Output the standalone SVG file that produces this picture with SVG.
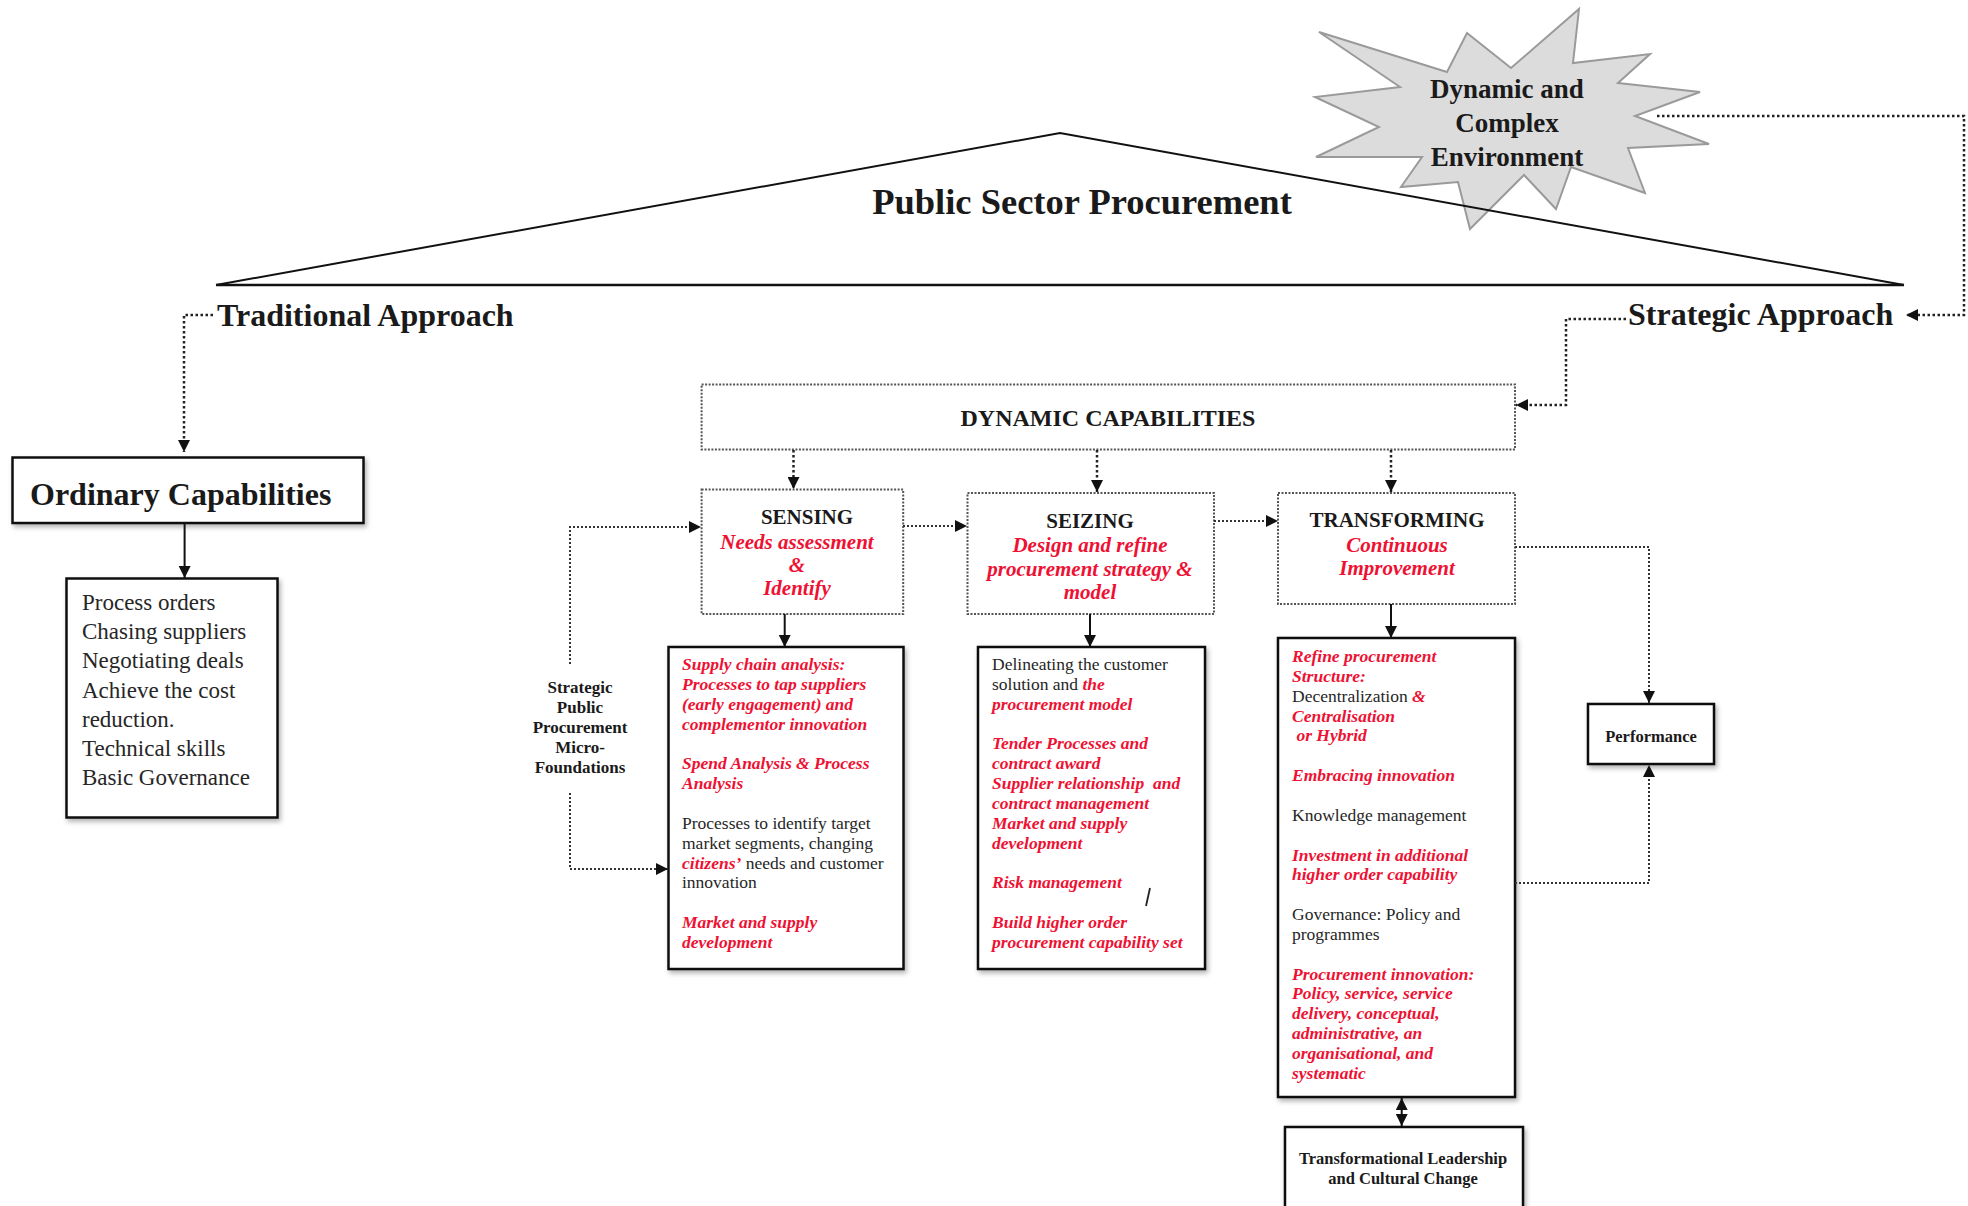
<svg xmlns="http://www.w3.org/2000/svg" width="1968" height="1206" viewBox="0 0 1968 1206">
  <style>
    text { font-family: "Liberation Serif", "Times New Roman", serif; fill: #1a1a1a; }
    .b { font-weight: bold; }
    .red { fill: #ee1133; font-weight: bold; font-style: italic; }
    .reg { fill: #262626; }
    .mid { text-anchor: middle; }
    .box { fill: #fff; stroke: #111; stroke-width: 2.5; }
    .dbox { fill: #fff; stroke: #555; stroke-width: 2; stroke-dasharray: 2 1.5; }
    .dot { fill: none; stroke: #333; stroke-width: 2; stroke-dasharray: 2 2; }
    .dot-h { fill: none; stroke: #222; stroke-width: 2.5; stroke-dasharray: 2.5 2.5; }
    .solid { fill: none; stroke: #111; stroke-width: 2; }
    .roof { fill: none; stroke: #111; stroke-width: 2; stroke-linejoin: miter; }
    .burst { fill: #dcdcdc; stroke: #9a9a9a; stroke-width: 2; }
  </style>
  <defs>
    <marker id="arrow" viewBox="0 0 10 10" refX="10" refY="5" markerUnits="userSpaceOnUse" markerWidth="12" markerHeight="12" orient="auto-start-reverse">
      <path d="M0,0 L10,5 L0,10 z" fill="#111"/>
    </marker>
    <filter id="shadow" x="-10%" y="-10%" width="130%" height="130%">
      <feDropShadow dx="2" dy="3" stdDeviation="2.5" flood-color="#000" flood-opacity="0.3"/>
    </filter>
  </defs>

  <!-- environment starburst -->
  <g id="environment">
    <polygon class="burst" points="1579,9 1573,63 1650,54 1618,83 1700,92 1635,116 1709,144 1628,148 1645,193 1571,167 1556,209 1524,175 1470,229 1458,182 1401,187 1422,157 1316,157 1379,127 1315,97 1400,87 1319,32 1447,72 1467,33 1511,68"/>
    <text class="b mid" x="1507" y="98" font-size="27">Dynamic and</text>
    <text class="b mid" x="1507" y="132" font-size="27">Complex</text>
    <text class="b mid" x="1507" y="166" font-size="27">Environment</text>
  </g>

  <!-- procurement roof -->
  <g id="public-sector-procurement">
    <polyline class="roof" points="216,285 1060,133 1904,285"/>
    <line x1="216" y1="285" x2="1904" y2="285" stroke="#111" stroke-width="2.5"/>
    <text class="b mid" x="1082" y="214" font-size="36.5">Public Sector Procurement</text>
  </g>

  <g id="traditional-approach">
    <text class="b" x="217" y="326" font-size="32">Traditional Approach</text>
  </g>
  <g id="strategic-approach">
    <text class="b" x="1628" y="325" font-size="32">Strategic Approach</text>
  </g>

  <!-- ordinary capabilities -->
  <g id="ordinary-capabilities">
    <rect class="box" x="12.5" y="457.5" width="351" height="65.5" filter="url(#shadow)"/>
    <text class="b" x="30" y="505" font-size="32">Ordinary Capabilities</text>
  </g>
  <g id="ordinary-list">
    <rect class="box" x="66.5" y="578.5" width="211" height="239" filter="url(#shadow)"/>
    <g font-size="23" class="reg">
      <text class="reg" x="82" y="610">Process orders</text>
      <text class="reg" x="82" y="639">Chasing suppliers</text>
      <text class="reg" x="82" y="668">Negotiating deals</text>
      <text class="reg" x="82" y="697.5">Achieve the cost</text>
      <text class="reg" x="82" y="726.5">reduction.</text>
      <text class="reg" x="82" y="755.5">Technical skills</text>
      <text class="reg" x="82" y="784.5">Basic Governance</text>
    </g>
  </g>

  <!-- dynamic capabilities -->
  <g id="dynamic-capabilities">
    <rect class="dbox" x="701.6" y="384.5" width="813.4" height="65"/>
    <text class="b mid" x="1108" y="426" font-size="24">DYNAMIC CAPABILITIES</text>
  </g>

  <g id="sensing">
    <rect class="dbox" x="701.6" y="489.5" width="201.6" height="124.5"/>
    <text class="b mid" x="807" y="524" font-size="21">SENSING</text>
    <text class="red mid" x="797" y="549" font-size="21">Needs assessment</text>
    <text class="red mid" x="797" y="572" font-size="21">&amp;</text>
    <text class="red mid" x="797" y="595" font-size="21">Identify</text>
  </g>

  <g id="seizing">
    <rect class="dbox" x="967.5" y="493" width="246.5" height="121"/>
    <text class="b mid" x="1090" y="528" font-size="21">SEIZING</text>
    <text class="red mid" x="1090" y="552" font-size="21">Design and refine</text>
    <text class="red mid" x="1090" y="576" font-size="21">procurement strategy &amp;</text>
    <text class="red mid" x="1090" y="599" font-size="21">model</text>
  </g>

  <g id="transforming">
    <rect class="dbox" x="1278" y="493" width="237" height="111"/>
    <text class="b mid" x="1397" y="527" font-size="21">TRANSFORMING</text>
    <text class="red mid" x="1397" y="552" font-size="21">Continuous</text>
    <text class="red mid" x="1397" y="575" font-size="21">Improvement</text>
  </g>

  <g id="micro-foundations">
    <text class="b mid" x="580" y="693" font-size="17">Strategic</text>
    <text class="b mid" x="580" y="713" font-size="17">Public</text>
    <text class="b mid" x="580" y="733" font-size="17">Procurement</text>
    <text class="b mid" x="580" y="753" font-size="17">Micro-</text>
    <text class="b mid" x="580" y="773" font-size="17">Foundations</text>
  </g>

  <!-- sensing activities -->
  <g id="sensing-list" font-size="17.5">
    <rect class="box" x="668.5" y="647" width="235" height="322" filter="url(#shadow)"/>
    <text class="red" x="682" y="670">Supply chain analysis:</text>
    <text class="red" x="682" y="689.9">Processes to tap suppliers</text>
    <text class="red" x="682" y="709.7">(early engagement) and</text>
    <text class="red" x="682" y="729.6">complementor innovation</text>
    <text class="red" x="682" y="769.3">Spend Analysis &amp; Process</text>
    <text class="red" x="682" y="789.1">Analysis</text>
    <text class="reg" x="682" y="828.8">Processes to identify target</text>
    <text class="reg" x="682" y="848.7">market segments, changing</text>
    <text class="reg" x="682" y="868.5"><tspan class="red">citizens’</tspan> needs and customer</text>
    <text class="reg" x="682" y="888.4">innovation</text>
    <text class="red" x="682" y="928">Market and supply</text>
    <text class="red" x="682" y="947.9">development</text>
  </g>

  <!-- seizing activities -->
  <g id="seizing-list" font-size="17.5">
    <rect class="box" x="978" y="647" width="227" height="322" filter="url(#shadow)"/>
    <text class="reg" x="992" y="670">Delineating the customer</text>
    <text class="reg" x="992" y="689.9">solution and <tspan class="red">the</tspan></text>
    <text class="red" x="992" y="709.7">procurement model</text>
    <text class="red" x="992" y="749.4">Tender Processes and</text>
    <text class="red" x="992" y="769.3">contract award</text>
    <text class="red" x="992" y="789.1" xml:space="preserve">Supplier relationship  and</text>
    <text class="red" x="992" y="809">contract management</text>
    <text class="red" x="992" y="828.8">Market and supply</text>
    <text class="red" x="992" y="848.7">development</text>
    <text class="red" x="992" y="888.4">Risk management</text>
    <line x1="1150" y1="888" x2="1146" y2="906" stroke="#222" stroke-width="1.8"/>
    <text class="red" x="992" y="928">Build higher order</text>
    <text class="red" x="992" y="947.9">procurement capability set</text>
  </g>

  <!-- transforming activities -->
  <g id="transforming-list" font-size="17.5">
    <rect class="box" x="1278" y="638" width="237" height="459" filter="url(#shadow)"/>
    <text class="red" x="1292" y="662">Refine procurement</text>
    <text class="red" x="1292" y="681.9">Structure:</text>
    <text class="reg" x="1292" y="701.7">Decentralization <tspan class="red">&amp;</tspan></text>
    <text class="red" x="1292" y="721.6">Centralisation</text>
    <text class="red" x="1292" y="741.4" xml:space="preserve"> or Hybrid</text>
    <text class="red" x="1292" y="781.1">Embracing innovation</text>
    <text class="reg" x="1292" y="820.8">Knowledge management</text>
    <text class="red" x="1292" y="860.5">Investment in additional</text>
    <text class="red" x="1292" y="880.4">higher order capability</text>
    <text class="reg" x="1292" y="920">Governance: Policy and</text>
    <text class="reg" x="1292" y="939.9">programmes</text>
    <text class="red" x="1292" y="979.6">Procurement innovation:</text>
    <text class="red" x="1292" y="999.4">Policy, service, service</text>
    <text class="red" x="1292" y="1019.3">delivery, conceptual,</text>
    <text class="red" x="1292" y="1039.1">administrative, an</text>
    <text class="red" x="1292" y="1059">organisational, and</text>
    <text class="red" x="1292" y="1078.8">systematic</text>
  </g>

  <g id="performance">
    <rect class="box" x="1588" y="704" width="126" height="60" filter="url(#shadow)"/>
    <text class="b mid" x="1651" y="742" font-size="16.5">Performance</text>
  </g>

  <g id="leadership">
    <rect class="box" x="1285" y="1127" width="238" height="82" filter="url(#shadow)"/>
    <text class="b mid" x="1403" y="1164" font-size="16.5">Transformational Leadership</text>
    <text class="b mid" x="1403" y="1184" font-size="16.5">and Cultural Change</text>
  </g>

  <!-- connectors -->
  <g id="connectors">
    <path class="dot-h" d="M1657,116 H1964 V315 H1906" marker-end="url(#arrow)"/>
    <path class="dot-h" d="M1626,319 H1566 V405 H1516" marker-end="url(#arrow)"/>
    <path class="dot-h" d="M213,315 H184 V452" marker-end="url(#arrow)"/>
    <path class="solid" d="M184.6,523 V578" marker-end="url(#arrow)"/>

    <path class="dot-h" d="M793.5,450 V489" marker-end="url(#arrow)"/>
    <path class="dot-h" d="M1097,450 V492" marker-end="url(#arrow)"/>
    <path class="dot-h" d="M1391,450 V492" marker-end="url(#arrow)"/>

    <path class="dot" d="M903,526 H967" marker-end="url(#arrow)"/>
    <path class="dot" d="M1214,521 H1278" marker-end="url(#arrow)"/>

    <path class="dot" d="M570,664 V527 H701" marker-end="url(#arrow)"/>
    <path class="dot" d="M570,793 V869 H668" marker-end="url(#arrow)"/>

    <path class="solid" d="M784.7,614 V647" marker-end="url(#arrow)"/>
    <path class="solid" d="M1090,614 V647" marker-end="url(#arrow)"/>
    <path class="solid" d="M1391,604 V638" marker-end="url(#arrow)"/>

    <path class="dot" d="M1515,547 H1649 V703" marker-end="url(#arrow)"/>
    <path class="dot" d="M1515,883 H1649 V765" marker-end="url(#arrow)"/>

    <path class="solid" d="M1401.7,1098 V1126" marker-start="url(#arrow)" marker-end="url(#arrow)"/>
  </g>
</svg>
